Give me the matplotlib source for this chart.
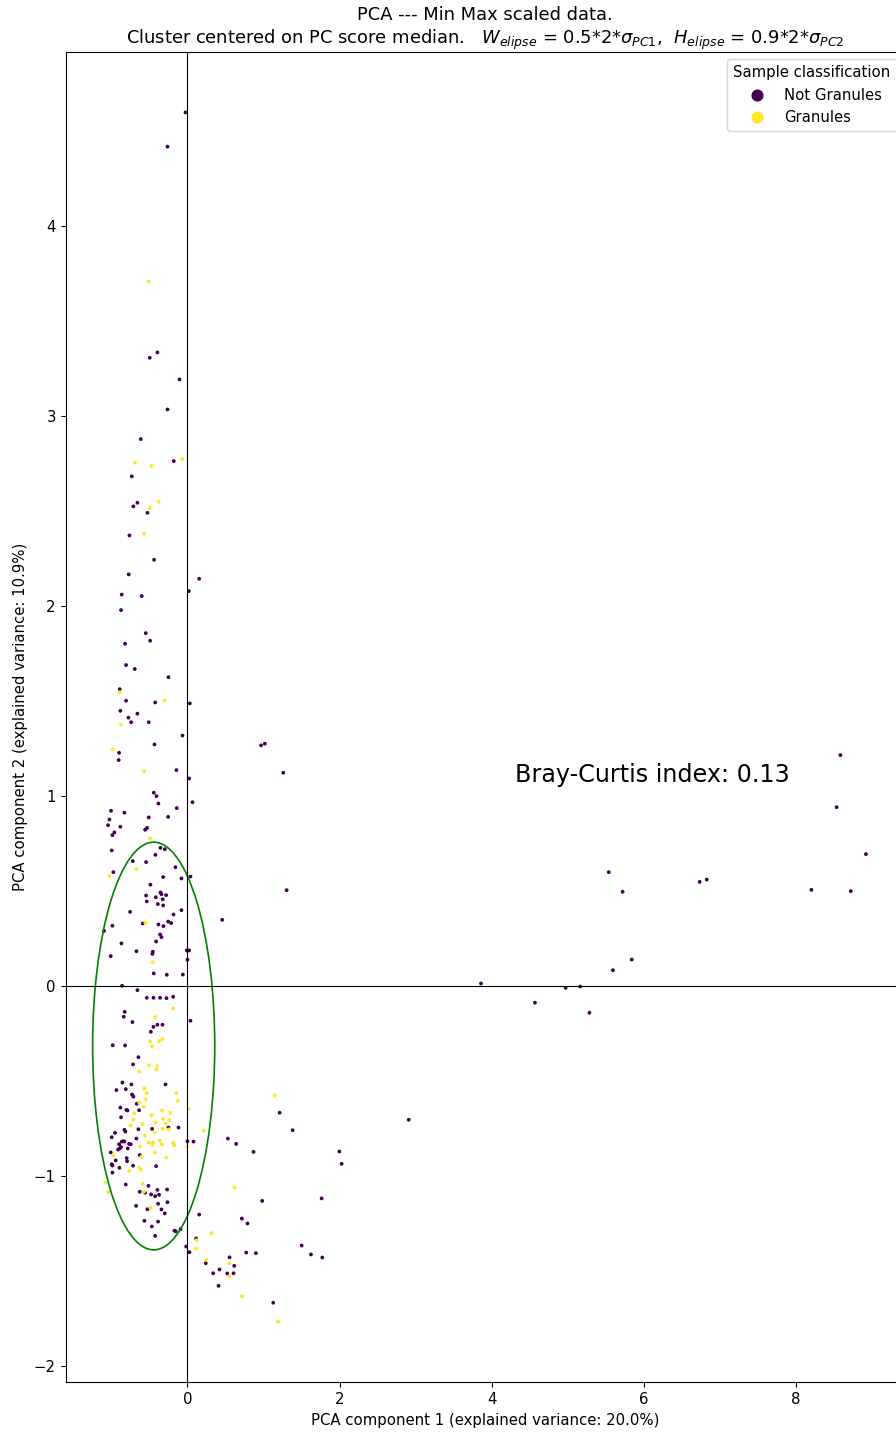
import matplotlib
matplotlib.use("Agg")
import numpy as np
import matplotlib.pyplot as plt
from matplotlib.patches import Ellipse
from matplotlib.lines import Line2D

# PC scores of samples classified as "Not Granules"
not_granules_pc1 = [
    -0.026, -0.263, -0.395, -0.496, -0.105, -0.263,
    -0.614, -0.180, -0.732, -0.658, -0.711, -0.526, -0.763, -0.439, -0.772, 0.154, 0.018,
    -0.864, -0.601, -0.873, -0.548, -0.491, -0.820, -0.807, -0.693, -0.250, -0.890,
    -0.807, -0.425, 0.031, -0.882, -0.776, -0.658, -0.741, -0.509, -0.066, -0.434, -0.899,
    -0.904, -0.145, 0.022, -0.443, -0.408, 0.066, -0.382, -1.004, -0.141, -0.829, -1.026,
    -0.509, -0.254, -1.044, -0.882, -0.531, -0.557, -0.961, -0.987, -0.355, -0.298, -0.996,
    -0.421, -0.719, -0.544, -0.158, -0.974, -0.320, 0.039, -0.079, -0.487, -0.355, -0.342,
    -0.281, -0.544, -0.417, -0.325,
    0.967, 1.017, 1.259, 1.303, 8.582, 8.532, 8.917, 5.537, 5.719, 6.732, 6.825, 8.201,
    8.718, 5.839, 5.592, 3.858, 4.970, 5.162, 4.567, 5.283,
    -0.535, -0.390, -0.320, -0.754, -0.079, -0.184, 0.456, -0.987, -0.588, -0.382, -0.316,
    -0.254, -0.215, -1.096, -0.360, -0.342, -0.868, -0.412, -0.671, -0.456, -0.461, -0.009,
    0.022, -1.009, 0.000, -0.443, -0.272, -0.061, -0.860, -0.658, -0.535, -0.447, -0.360,
    -0.276, -0.188, -0.825, -0.838, -0.724, 0.039, -0.395, -0.329, -0.447, -0.482, -0.982,
    -0.820,
    -0.645, -0.715, -0.855, -0.737, -0.289, -0.934, -0.811, -0.728, -0.711, -0.667, -0.882,
    -0.803, -0.789, -0.636, -0.873, -0.118, -0.250, -0.465, -0.645, -0.829, -0.816, -0.952,
    -0.996, -0.671, -0.842, -0.864, -0.829, -0.899, -0.768, -0.746, 0.000, 0.079, 0.531,
    0.640, 0.868, -0.873, -0.912, -0.890, -0.785, -1.009, -0.627, -0.799, -0.943, -0.794,
    -0.996, -0.987, -0.715, -0.412, -0.895, -0.987,
    -0.811, -0.513, -0.627, -0.557, -0.395, -0.268, -0.478, -0.425, -0.373, -0.675, -0.386,
    -0.263, -0.526, -0.342, -0.298, 0.154, 0.715, 0.789, -0.566, -0.386, -0.469, -0.171,
    -0.154, -0.092, -0.425, 0.114, -0.017, 0.026, 0.772, 0.899, 0.241, 0.553, 0.614, 0.421,
    0.338, 0.522, 0.605, 0.408,
    1.211, 1.382, 2.908, 1.996, 2.026, 0.982, 1.763, 1.500, 1.623, 1.772, 1.127,
]
not_granules_pc2 = [
    4.596, 4.416, 3.333, 3.305, 3.191, 3.033,
    2.877, 2.761, 2.681, 2.542, 2.523, 2.489, 2.370, 2.242, 2.165, 2.142, 2.077,
    2.059, 2.051, 1.977, 1.856, 1.816, 1.800, 1.688, 1.667, 1.624, 1.561,
    1.500, 1.491, 1.486, 1.447, 1.411, 1.432, 1.387, 1.387, 1.317, 1.270, 1.226,
    1.188, 1.135, 1.091, 1.016, 0.998, 0.966, 0.959, 0.921, 0.935, 0.911, 0.875,
    0.886, 0.889, 0.845, 0.837, 0.831, 0.821, 0.807, 0.793, 0.726, 0.719, 0.712,
    0.689, 0.656, 0.651, 0.624, 0.598, 0.572, 0.575, 0.565, 0.532, 0.491, 0.482,
    0.477, 0.475, 0.466, 0.455,
    1.265, 1.274, 1.121, 0.503, 1.214, 0.940, 0.693, 0.598, 0.495, 0.547, 0.559, 0.505,
    0.498, 0.138, 0.082, 0.012, -0.011, -0.004, -0.089, -0.142,
    0.444, 0.430, 0.423, 0.389, 0.398, 0.375, 0.347, 0.316, 0.328, 0.323, 0.314,
    0.338, 0.330, 0.289, 0.270, 0.256, 0.223, 0.233, 0.182, 0.179, 0.168, 0.186,
    0.186, 0.156, 0.137, 0.065, 0.058, 0.059, 0.000, -0.023, -0.063, -0.063, -0.063,
    -0.065, -0.058, -0.137, -0.163, -0.191, -0.184, -0.205, -0.205, -0.216, -0.242, -0.313,
    -0.314,
    -0.376, -0.414, -0.509, -0.519, -0.519, -0.549, -0.544, -0.572, -0.583, -0.621, -0.641,
    -0.653, -0.656, -0.655, -0.692, -0.746, -0.746, -0.753, -0.755, -0.758, -0.767, -0.774,
    -0.797, -0.804, -0.818, -0.820, -0.820, -0.834, -0.832, -0.834, -0.818, -0.820, -0.804,
    -0.832, -0.874, -0.849, -0.862, -0.856, -0.856, -0.877, -0.891, -0.907, -0.919, -0.923,
    -0.939, -0.946, -0.947, -0.949, -0.958, -0.983,
    -1.046, -1.053, -1.084, -1.089, -1.074, -1.072, -1.098, -1.107, -1.100, -1.158, -1.147,
    -1.139, -1.176, -1.177, -1.198, -1.204, -1.225, -1.251, -1.237, -1.241, -1.267, -1.289,
    -1.292, -1.281, -1.316, -1.330, -1.372, -1.402, -1.404, -1.407, -1.460, -1.429, -1.474, -1.493,
    -1.513, -1.514, -1.513, -1.579,
    -0.668, -0.760, -0.705, -0.872, -0.937, -1.132, -1.119, -1.367, -1.414, -1.430, -1.668,
]

# PC scores of samples classified as "Granules"
granules_pc1 = [
    -0.509,
    -0.688, -0.474, -0.070, -0.377, -0.496, -0.570, -0.890,
    -0.303, -0.873, -0.982, -0.570, -0.491, -0.671, -1.026,
    -0.553, -0.456, -0.188, -0.425, -0.491, -0.373, -0.329, -0.465,
    -0.504, -0.399, -0.408, -0.632, -0.566, -0.535, -0.149, -0.548, -0.127, -0.632, -0.575,
    -0.333, 0.013, -0.702, -0.224, -0.474, -0.320, -0.241, -0.711, -0.421, -0.285, -0.592,
    -0.746, 0.215, -0.246, -0.325, -0.434, -0.557, -0.364, -0.509, -0.452, -0.465, -0.338,
    -0.188, -0.175, -0.004, -0.623, -0.974, -0.430, -0.605, -0.276, -0.632, -0.614, -0.763,
    -1.079, -1.044, -0.588, -0.570, 0.618, -0.487, 0.316, 0.122, 0.109, 0.246, 0.553, 0.548,
    0.715,
    1.145, 1.189,
]
granules_pc2 = [
    3.707,
    2.753, 2.737, 2.772, 2.547, 2.514, 2.379, 1.544,
    1.502, 1.374, 1.244, 1.128, 0.775, 0.614, 0.577,
    0.332, 0.124, -0.119, -0.165, -0.293, -0.292, -0.281, -0.319,
    -0.418, -0.423, -0.441, -0.451, -0.540, -0.565, -0.565, -0.598, -0.605, -0.616, -0.637,
    -0.655, -0.649, -0.671, -0.669, -0.681, -0.700, -0.705, -0.705, -0.719, -0.726, -0.728,
    -0.735, -0.763, -0.756, -0.753, -0.771, -0.788, -0.814, -0.825, -0.825, -0.837, -0.834,
    -0.826, -0.839, -0.846, -0.846, -0.893, -0.877, -0.900, -0.904, -0.956, -0.968, -0.974,
    -1.037, -1.086, -1.042, -1.083, -1.062, -1.168, -1.302, -1.339, -1.383, -1.441, -1.460, -1.530,
    -1.634,
    -0.576, -1.767,
]

class_names = ["Not Granules", "Granules"]

# Cluster ellipse parameters (centre at the PC score median)
cluster_center = (-0.444, -0.317)
sigma_pc1 = 1.605
sigma_pc2 = 1.192
width_factor = 0.5
height_factor = 0.9

bray_curtis = 0.13
explained_variance = [20.0, 10.9]

plt.rcParams["font.size"] = 10.7
plt.rcParams["xtick.major.size"] = 3.8
plt.rcParams["ytick.major.size"] = 3.8

pc1 = np.array(not_granules_pc1 + granules_pc1)
pc2 = np.array(not_granules_pc2 + granules_pc2)
labels = np.array([0] * len(not_granules_pc1) + [1] * len(granules_pc1))

fig = plt.figure(figsize=(8.96, 14.34), dpi=100)
ax = fig.add_axes([66 / 896, 52 / 1434, 838 / 896, 1330 / 1434])

cmap = plt.get_cmap("viridis")
ax.scatter(pc1, pc2, c=labels, cmap=cmap, vmin=0, vmax=1, s=3)

ax.axhline(0, color="black", linewidth=0.8)
ax.axvline(0, color="black", linewidth=0.8)

ell = Ellipse(cluster_center,
              width=width_factor * 2 * sigma_pc1,
              height=height_factor * 2 * sigma_pc2,
              fill=False, edgecolor="green", linewidth=1.2)
ax.add_patch(ell)

ax.text(4.3, 1.11, f"Bray-Curtis index: {bray_curtis}", fontsize=17.2, va="center")

ax.set_xlabel(f"PCA component 1 (explained variance: {explained_variance[0]}%)")
ax.set_ylabel(f"PCA component 2 (explained variance: {explained_variance[1]}%)")
ax.set_title("PCA --- Min Max scaled data.\n"
             "Cluster centered on PC score median.   "
             r"$W_{elipse}$ = 0.5*2*$\sigma_{PC1}$,  $H_{elipse}$ = 0.9*2*$\sigma_{PC2}$",
             fontsize=12.9)

ax.set_yticks([-2, -1, 0, 1, 2, 3, 4])
ax.set_xticks([0, 2, 4, 6, 8])

handles = [Line2D([0], [0], marker="o", linestyle="", markersize=7.7,
                  markerfacecolor=cmap(0.0), markeredgecolor=cmap(0.0)),
           Line2D([0], [0], marker="o", linestyle="", markersize=7.7,
                  markerfacecolor=cmap(1.0), markeredgecolor=cmap(1.0))]
ax.legend(handles, class_names, title="Sample classification", loc="upper right")

fig.savefig("out.png", dpi=100)
